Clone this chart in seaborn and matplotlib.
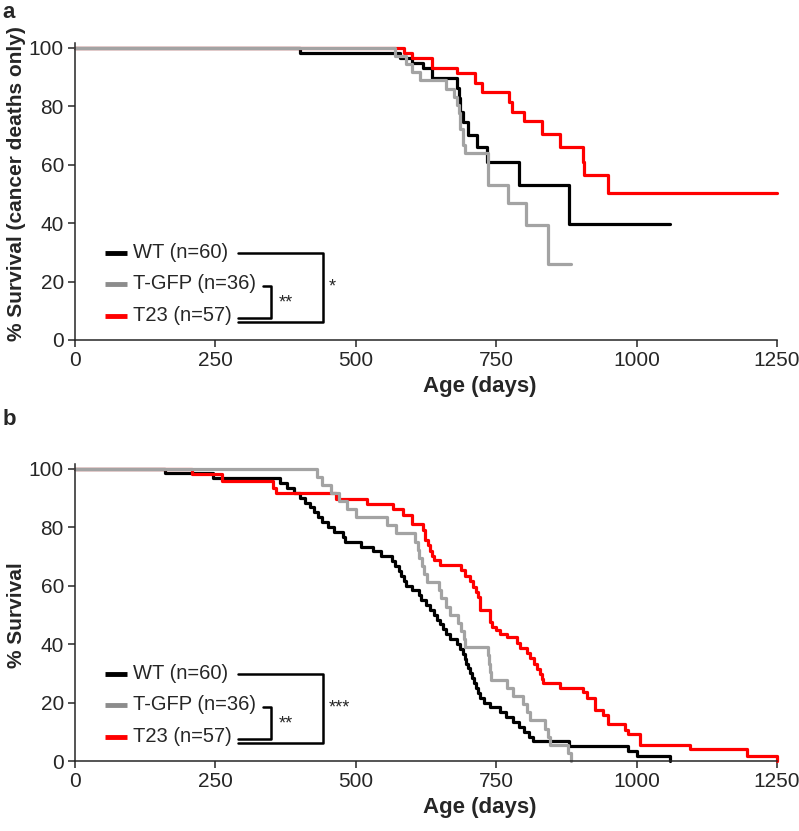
import matplotlib
matplotlib.use('Agg')
import matplotlib.pyplot as plt
import pandas as pd
import seaborn as sns

groups = ['WT', 'T-GFP', 'T23']
group_n = [60, 36, 57]
line_colors = ['#000000', '#a3a3a3', '#ff0000']
legend_colors = ['#000000', '#8c8c8c', '#ff0000']

# panel a: % survival, cancer deaths only (step points)
a_wt_days = [0, 400, 578, 600, 620, 635, 680, 683, 686, 690, 700, 716, 733, 790, 880, 1060]
a_wt_surv = [100, 98.3, 96.6, 94.9, 93.2, 89.8, 86.4, 83.0, 78.0, 74.6, 70.2, 66.1, 60.8, 52.9, 39.6, 39.6]

a_gfp_days = [0, 570, 590, 600, 615, 660, 675, 680, 683, 686, 690, 694, 735, 771, 803, 842, 883]
a_gfp_surv = [100, 97.2, 94.4, 91.7, 88.9, 86.1, 83.3, 80.6, 77.8, 72.2, 66.7, 64.0, 53.1, 46.8, 39.4, 25.9, 25.9]

a_t23_days = [0, 585, 600, 636, 680, 712, 725, 773, 778, 800, 831, 864, 905, 907, 949, 1250]
a_t23_surv = [100, 98.2, 96.5, 93.0, 91.4, 88.0, 85.0, 81.5, 78.0, 75.0, 70.5, 66.0, 61.0, 56.5, 50.3, 50.3]

# panel b: % survival, all deaths
b_wt_days = [0, 160, 246, 365, 378, 390, 400, 410, 418, 425, 432, 440, 450, 462, 477, 480,
             510, 530, 545, 565, 570, 576, 580, 585, 590, 600, 612, 616, 625, 632, 640, 645,
             650, 655, 660, 668, 680, 686, 690, 694, 697, 700, 704, 707, 710, 714, 718, 721,
             728, 739, 757, 768, 780, 790, 800, 808, 816, 880, 985, 1000, 1060]
b_wt_surv = [100, 98.3, 96.7, 95.0, 93.3, 91.7, 90.0, 88.3, 86.7, 85.0, 83.3, 81.7, 80.0, 78.3, 76.7, 75.0,
             73.3, 71.7, 70.0, 68.3, 66.7, 65.0, 63.3, 61.7, 60.0, 58.3, 56.7, 55.0, 53.3, 51.7, 50.0, 48.3,
             46.7, 45.0, 43.3, 41.7, 40.0, 38.3, 36.7, 35.0, 33.3, 31.7, 30.0, 28.3, 26.7, 25.0, 23.3, 21.7,
             20.0, 18.3, 16.7, 15.0, 13.3, 11.7, 10.0, 8.3, 6.7, 5.0, 3.3, 1.7, 0]

b_gfp_days = [0, 430, 440, 455, 470, 485, 500, 555, 572, 605, 610, 613, 617, 622, 626, 648, 652,
              660, 668, 682, 688, 692, 695, 735, 737, 739, 741, 770, 780, 798, 805, 810, 837,
              843, 846, 878, 884]
b_gfp_surv = [100, 97.2, 94.4, 91.7, 88.9, 86.1, 83.3, 80.6, 77.8, 75.0, 72.2, 69.4, 66.7, 63.9, 61.1, 58.3, 55.6,
              52.8, 50.0, 47.2, 44.4, 41.7, 38.9, 36.1, 33.3, 30.6, 27.8, 25.0, 22.2, 19.4, 16.7, 13.9, 11.1,
              8.3, 5.6, 2.8, 0]

b_t23_days = [0, 208, 262, 352, 358, 465, 520, 566, 584, 600, 620, 624, 628, 632, 636, 640, 650,
              688, 695, 703, 708, 714, 718, 721, 739, 742, 750, 757, 770, 787, 792, 805, 810,
              818, 823, 828, 831, 833, 864, 905, 912, 926, 940, 949, 979, 985, 1006, 1095,
              1197, 1250]
b_t23_surv = [100, 98.2, 95.6, 93.4, 91.5, 89.6, 87.9, 86.1, 84.2, 81.0, 78.9, 75.4, 73.7, 71.9, 70.2, 68.7, 67.0,
              65.3, 63.2, 61.4, 59.6, 57.9, 56.1, 51.6, 47.4, 45.9, 44.7, 43.5, 42.4, 40.4, 38.6, 36.8, 35.1,
              33.3, 31.6, 29.8, 28.1, 26.6, 25.0, 23.6, 21.4, 17.4, 15.6, 12.8, 10.5, 9.1, 5.6, 4.0,
              1.7, 0]

panels = {
    'a': [(a_wt_days, a_wt_surv), (a_gfp_days, a_gfp_surv), (a_t23_days, a_t23_surv)],
    'b': [(b_wt_days, b_wt_surv), (b_gfp_days, b_gfp_surv), (b_t23_days, b_t23_surv)],
}
ylabels = {'a': '% Survival (cancer deaths only)', 'b': '% Survival'}
ylabel_pos = {'a': 0.525, 'b': 0.49}
outer_stars = {'a': '*', 'b': '***'}

sns.set_style('ticks')
plt.rcParams['font.family'] = ['Liberation Sans', 'DejaVu Sans']

fig = plt.figure(figsize=(7.99, 8.31), dpi=100)
axes = {
    'a': fig.add_axes([0.0939, 0.5909, 0.8786, 0.3574]),
    'b': fig.add_axes([0.0939, 0.0842, 0.8786, 0.3580]),
}

for key, ax in axes.items():
    # draw black first, then red, gray on top
    for i in [0, 2, 1]:
        days, surv = panels[key][i]
        df = pd.DataFrame({'day': days, 'surv': surv})
        sns.lineplot(data=df, x='day', y='surv', ax=ax, color=line_colors[i],
                     lw=2.3, drawstyle='steps-post', estimator=None, sort=False,
                     clip_on=False)

    ax.set_xlim(0, 1250)
    ax.set_ylim(0, 101.7)
    ax.set_xticks([0, 250, 500, 750, 1000, 1250])
    ax.set_yticks([0, 20, 40, 60, 80, 100])
    ax.tick_params(labelsize=15, length=5, width=1.1, direction='out', pad=3)
    sns.despine(ax=ax)
    for s in ['left', 'bottom']:
        ax.spines[s].set_linewidth(1.1)
    ax.set_xlabel('Age (days)', fontsize=16, fontweight='bold')
    ax.xaxis.set_label_coords(0.577, -0.12)
    ax.set_ylabel(ylabels[key], fontsize=15, fontweight='bold')
    ax.yaxis.set_label_coords(-0.07, ylabel_pos[key])

    # legend with significance brackets
    rows = [29.8, 19.3, 8.3]
    for i, g in enumerate(groups):
        ax.plot([53, 93], [rows[i], rows[i]], color=legend_colors[i], lw=3.5,
                solid_capstyle='butt', clip_on=False)
        ax.text(103, rows[i], f'{g} (n={group_n[i]})', ha='left', va='center',
                fontsize=14.5)
    ax.plot([290, 442, 442, 290], [29.8, 29.8, 6.0, 6.0], color='k', lw=1.8)
    ax.plot([334, 349, 349, 290], [18.5, 18.5, 7.4, 7.4], color='k', lw=1.8)
    ax.text(452, 18.0, outer_stars[key], ha='left', va='center', fontsize=13)
    ax.text(375, 12.5, '**', ha='center', va='center', fontsize=13)

fig.text(0.003, 0.997, 'a', ha='left', va='top', fontsize=16, fontweight='bold')
fig.text(0.003, 0.508, 'b', ha='left', va='top', fontsize=16, fontweight='bold')

fig.savefig('out.png', dpi=100)
